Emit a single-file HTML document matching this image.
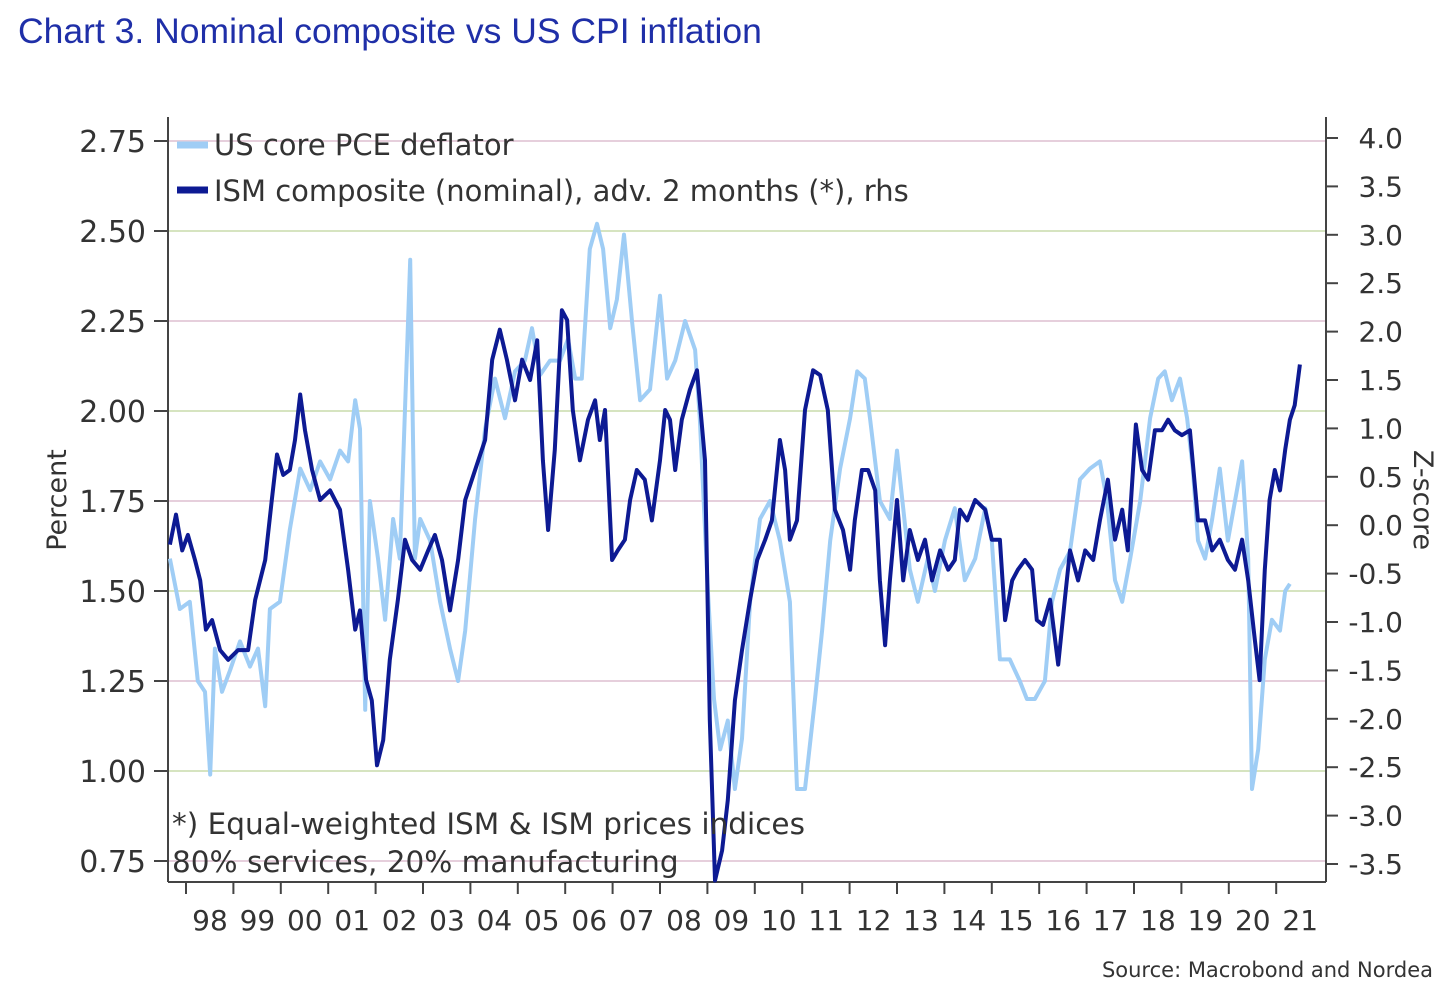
<!DOCTYPE html>
<html><head><meta charset="utf-8"><style>
body{margin:0;background:#fff;width:1446px;height:996px;overflow:hidden;font-family:"Liberation Sans","DejaVu Sans",sans-serif}
svg text{font-family:"DejaVu Sans","Liberation Sans",sans-serif}
</style></head><body>
<svg id="chart" width="1446" height="996" viewBox="0 0 1446 996" xmlns="http://www.w3.org/2000/svg">
<text x="18" y="43" font-size="35.5" fill="#1f2fa8" style="font-family:'Liberation Sans',sans-serif">Chart 3. Nominal composite vs US CPI inflation</text>
<g id="grid"></g><g id="axes"></g><g id="series"></g>
<text transform="translate(66,500) rotate(-90)" text-anchor="middle" font-size="27" fill="#333">Percent</text>
<text transform="translate(1414,500) rotate(90)" text-anchor="middle" font-size="27" fill="#333">Z-score</text>
<g>
<line x1="177" y1="145" x2="208" y2="145" stroke="#9fcdf5" stroke-width="7"/>
<text x="214" y="155" font-size="29" fill="#333">US core PCE deflator</text>
<line x1="177" y1="190" x2="208" y2="190" stroke="#0d1a93" stroke-width="7"/>
<text x="214" y="201" font-size="29" fill="#333">ISM composite (nominal), adv. 2 months (*), rhs</text>
</g>
<text x="172" y="834" font-size="29.5" fill="#333">*) Equal-weighted ISM &amp; ISM prices indices</text>
<text x="172" y="872" font-size="29.5" fill="#333">80% services, 20% manufacturing</text>
<text x="1433" y="977" text-anchor="end" font-size="21" fill="#333">Source: Macrobond and Nordea</text>
</svg>
<script>
const leftTicks=[2.75,2.50,2.25,2.00,1.75,1.50,1.25,1.00,0.75];
const rightTicks=[4.0,3.5,3.0,2.5,2.0,1.5,1.0,0.5,0.0,-0.5,-1.0,-1.5,-2.0,-2.5,-3.0,-3.5];
const yearLabels=["98","99","00","01","02","03","04","05","06","07","08","09","10","11","12","13","14","15","16","17","18","19","20","21"];
const pceDates=[1997.66,1997.87,1998.08,1998.25,1998.40,1998.51,1998.61,1998.76,1998.93,1999.14,1999.35,1999.52,1999.67,1999.77,1999.98,2000.19,2000.41,2000.62,2000.83,2001.04,2001.25,2001.42,2001.57,2001.67,2001.78,2001.88,2002.05,2002.20,2002.37,2002.51,2002.73,2002.83,2002.94,2003.15,2003.36,2003.57,2003.74,2003.89,2004.10,2004.31,2004.52,2004.73,2004.94,2005.15,2005.30,2005.47,2005.68,2005.89,2006.06,2006.21,2006.35,2006.52,2006.67,2006.80,2006.95,2007.09,2007.24,2007.41,2007.58,2007.79,2008.00,2008.15,2008.32,2008.53,2008.74,2008.84,2009.01,2009.14,2009.27,2009.43,2009.58,2009.73,2009.90,2010.11,2010.32,2010.53,2010.74,2010.89,2011.06,2011.27,2011.42,2011.59,2011.80,2012.01,2012.16,2012.32,2012.43,2012.64,2012.85,2013.00,2013.13,2013.27,2013.44,2013.65,2013.80,2014.01,2014.22,2014.43,2014.65,2014.86,2015.00,2015.17,2015.38,2015.59,2015.74,2015.91,2016.12,2016.27,2016.44,2016.65,2016.86,2017.07,2017.28,2017.43,2017.60,2017.75,2017.92,2018.13,2018.34,2018.51,2018.65,2018.80,2018.97,2019.12,2019.24,2019.35,2019.50,2019.65,2019.81,2019.98,2020.13,2020.28,2020.41,2020.49,2020.62,2020.76,2020.91,2021.08,2021.19,2021.29];
const pceValues=[1.59,1.45,1.47,1.25,1.22,0.99,1.34,1.22,1.28,1.36,1.29,1.34,1.18,1.45,1.47,1.67,1.84,1.78,1.86,1.81,1.89,1.86,2.03,1.95,1.17,1.75,1.59,1.42,1.70,1.59,2.42,1.59,1.70,1.64,1.47,1.34,1.25,1.39,1.70,1.95,2.09,1.98,2.11,2.14,2.23,2.10,2.14,2.14,2.20,2.09,2.09,2.45,2.52,2.45,2.23,2.31,2.49,2.25,2.03,2.06,2.32,2.09,2.14,2.25,2.17,1.98,1.50,1.20,1.06,1.14,0.95,1.09,1.47,1.70,1.75,1.64,1.47,0.95,0.95,1.20,1.39,1.64,1.84,1.98,2.11,2.09,1.98,1.75,1.70,1.89,1.73,1.56,1.47,1.59,1.50,1.64,1.73,1.53,1.59,1.73,1.64,1.31,1.31,1.25,1.20,1.20,1.25,1.47,1.56,1.61,1.81,1.84,1.86,1.75,1.53,1.47,1.59,1.75,1.98,2.09,2.11,2.03,2.09,1.98,1.84,1.64,1.59,1.70,1.84,1.64,1.75,1.86,1.59,0.95,1.06,1.31,1.42,1.39,1.50,1.52];
const ismDates=[1997.66,1997.79,1997.92,1998.04,1998.19,1998.30,1998.42,1998.55,1998.72,1998.89,1999.10,1999.31,1999.46,1999.67,1999.81,1999.92,2000.05,2000.19,2000.30,2000.41,2000.51,2000.66,2000.83,2001.04,2001.25,2001.42,2001.57,2001.67,2001.80,2001.92,2002.03,2002.16,2002.30,2002.47,2002.62,2002.77,2002.94,2003.11,2003.25,2003.40,2003.57,2003.74,2003.89,2004.10,2004.31,2004.46,2004.62,2004.77,2004.94,2005.09,2005.26,2005.41,2005.53,2005.64,2005.78,2005.93,2006.04,2006.16,2006.31,2006.48,2006.63,2006.73,2006.84,2006.99,2007.11,2007.26,2007.37,2007.51,2007.68,2007.83,2008.00,2008.11,2008.21,2008.32,2008.46,2008.63,2008.78,2008.95,2009.05,2009.16,2009.31,2009.43,2009.58,2009.73,2009.90,2010.05,2010.22,2010.36,2010.53,2010.64,2010.74,2010.89,2011.06,2011.23,2011.38,2011.54,2011.69,2011.86,2012.01,2012.11,2012.26,2012.39,2012.54,2012.64,2012.75,2012.85,2013.00,2013.13,2013.27,2013.44,2013.59,2013.74,2013.91,2014.08,2014.22,2014.33,2014.48,2014.65,2014.86,2015.00,2015.17,2015.28,2015.43,2015.55,2015.70,2015.85,2015.95,2016.08,2016.23,2016.40,2016.54,2016.65,2016.82,2016.97,2017.14,2017.28,2017.45,2017.60,2017.75,2017.87,2018.04,2018.17,2018.30,2018.44,2018.59,2018.72,2018.86,2019.01,2019.18,2019.35,2019.50,2019.65,2019.81,2019.98,2020.13,2020.28,2020.41,2020.55,2020.65,2020.76,2020.86,2020.97,2021.08,2021.19,2021.29,2021.39,2021.50];
const ismValues=[-0.20,0.11,-0.26,-0.10,-0.36,-0.57,-1.08,-0.98,-1.29,-1.39,-1.29,-1.29,-0.77,-0.36,0.26,0.73,0.52,0.57,0.88,1.35,0.98,0.57,0.26,0.36,0.16,-0.46,-1.08,-0.88,-1.60,-1.81,-2.48,-2.22,-1.39,-0.77,-0.15,-0.36,-0.46,-0.26,-0.10,-0.36,-0.88,-0.36,0.26,0.57,0.88,1.71,2.02,1.71,1.29,1.71,1.50,1.91,0.67,-0.05,0.78,2.22,2.12,1.19,0.67,1.09,1.29,0.88,1.19,-0.36,-0.26,-0.15,0.26,0.57,0.47,0.05,0.67,1.19,1.09,0.57,1.09,1.40,1.60,0.67,-2.01,-3.67,-3.36,-2.84,-1.81,-1.29,-0.77,-0.36,-0.15,0.05,0.88,0.57,-0.15,0.05,1.19,1.60,1.55,1.19,0.16,-0.05,-0.46,0.05,0.57,0.57,0.36,-0.57,-1.24,-0.57,0.26,-0.57,-0.05,-0.36,-0.15,-0.57,-0.26,-0.46,-0.36,0.16,0.05,0.26,0.16,-0.15,-0.15,-0.98,-0.57,-0.46,-0.36,-0.46,-0.98,-1.03,-0.77,-1.44,-0.77,-0.26,-0.57,-0.26,-0.36,0.05,0.47,-0.15,0.16,-0.26,1.04,0.57,0.47,0.98,0.98,1.09,0.98,0.93,0.98,0.05,0.05,-0.26,-0.15,-0.36,-0.46,-0.15,-0.57,-1.19,-1.60,-0.46,0.26,0.57,0.36,0.78,1.09,1.24,1.66];

const L=168,R=1326,T=117,B=882;
const xS=t=>186+(t-1998)*47.4;
const yL=v=>141+(2.75-v)*360;
const yR=z=>138+(4.0-z)*96.8;
const NS="http://www.w3.org/2000/svg";
function mk(tag,attrs,parent){const e=document.createElementNS(NS,tag);for(const k in attrs)e.setAttribute(k,attrs[k]);parent.appendChild(e);return e;}
const grid=document.getElementById('grid'),axes=document.getElementById('axes'),series=document.getElementById('series');
leftTicks.forEach((v,i)=>{
  const y=yL(v);
  const g=mk('line',{x1:L,x2:R,y1:y,y2:y,stroke:i%2?'#d6e4c0':'#e6cfdc','stroke-width':2},grid);
  
  
  const t=mk('line',{x1:L-14,x2:L,y1:y,y2:y,stroke:'#444','stroke-width':2},axes);
  
  
  const tx=mk('text',{x:146,y:y+11,'text-anchor':'end','font-size':30,fill:'#333'},axes);
  tx.textContent=v.toFixed(2);
  
  
});
rightTicks.forEach(z=>{
  const y=yR(z);
  const t=mk('line',{x1:R,x2:R+12,y1:y,y2:y,stroke:'#444','stroke-width':2},axes);
  
  
  const tx=mk('text',{x:1403,y:y+10,'text-anchor':'end','font-size':28,fill:'#333'},axes);
  tx.textContent=z.toFixed(1);
  
  
});
yearLabels.forEach((lab,i)=>{
  const x0=xS(1998+i);
  const t=mk('line',{x1:x0,x2:x0,y1:B,y2:B+12,stroke:'#444','stroke-width':2},axes);
  
  
  const tx=mk('text',{x:x0+24,y:930,'text-anchor':'middle','font-size':28,fill:'#333'},axes);
  tx.textContent=lab;
  
  
});
const ax1=mk('line',{x1:L,x2:L,y1:T,y2:B,stroke:'#444','stroke-width':2},axes);


const ax2=mk('line',{x1:R,x2:R,y1:T,y2:B,stroke:'#444','stroke-width':2},axes);


const ax3=mk('line',{x1:L,x2:R,y1:B,y2:B,stroke:'#444','stroke-width':2},axes);


const p1=mk('polyline',{points:pceDates.map((t,i)=>xS(t).toFixed(1)+','+yL(pceValues[i]).toFixed(1)).join(' '),fill:'none',stroke:'#9fcdf5','stroke-width':4,'stroke-linejoin':'round'},series);


const p2=mk('polyline',{points:ismDates.map((t,i)=>xS(t).toFixed(1)+','+yR(ismValues[i]).toFixed(1)).join(' '),fill:'none',stroke:'#0d1a93','stroke-width':4,'stroke-linejoin':'round'},series);


</script>
</body></html>
